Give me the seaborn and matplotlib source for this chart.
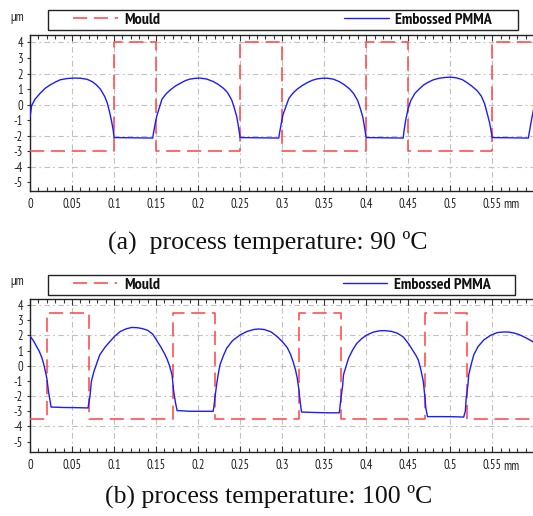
import matplotlib
matplotlib.use("Agg")
import matplotlib.pyplot as plt
import seaborn as sns
import pandas as pd
from matplotlib.patches import Rectangle
from matplotlib.ticker import MultipleLocator

# ---- data ----
# (a) 90 C : mould step profile
mould_a_x = [0, 0.1, 0.15, 0.25, 0.3, 0.4, 0.45, 0.55, 0.6]
mould_a_y = [-3, 4, -3, 4, -3, 4, -3, 4, 4]

# (a) embossed PMMA profile
pmma_a_x = [0.000, 0.002, 0.006, 0.012, 0.018, 0.024, 0.030, 0.036, 0.044, 0.052,
            0.060, 0.068, 0.074, 0.079, 0.084, 0.089, 0.092, 0.095, 0.097, 0.099, 0.100,
            0.146, 0.147, 0.149, 0.151, 0.153, 0.157, 0.162, 0.167, 0.173, 0.179, 0.185,
            0.190, 0.196, 0.202, 0.210, 0.218, 0.224, 0.230, 0.235, 0.240, 0.243, 0.246,
            0.248, 0.250,
            0.296, 0.297, 0.299, 0.301, 0.304, 0.308, 0.313, 0.318, 0.324, 0.330, 0.336,
            0.342, 0.348, 0.354, 0.361, 0.368, 0.374, 0.380, 0.385, 0.390, 0.393, 0.396,
            0.398, 0.400,
            0.444, 0.445, 0.447, 0.450, 0.453, 0.458, 0.463, 0.468, 0.473, 0.480, 0.487,
            0.494, 0.500, 0.507, 0.514, 0.520, 0.526, 0.532, 0.537, 0.541, 0.544, 0.547,
            0.550,
            0.593, 0.595, 0.597, 0.599]
pmma_a_y = [-0.80, -0.05, 0.35, 0.73, 1.05, 1.27, 1.45, 1.60, 1.68, 1.71,
            1.70, 1.63, 1.48, 1.27, 0.98, 0.51, 0.10, -0.55, -1.05, -1.65, -2.12,
            -2.15, -1.80, -1.20, -0.70, -0.35, 0.35, 0.70, 0.95, 1.20, 1.38, 1.55,
            1.64, 1.69, 1.71, 1.65, 1.49, 1.30, 1.06, 0.78, 0.30, -0.20, -0.78,
            -1.40, -2.12,
            -2.15, -1.80, -1.20, -0.65, -0.20, 0.40, 0.75, 1.00, 1.23, 1.42, 1.57,
            1.66, 1.70, 1.70, 1.64, 1.48, 1.28, 1.02, 0.72, 0.25, -0.25, -0.80,
            -1.45, -2.12,
            -2.15, -1.70, -1.00, -0.24, 0.25, 0.73, 1.00, 1.25, 1.42, 1.60, 1.70,
            1.75, 1.77, 1.73, 1.62, 1.42, 1.18, 0.90, 0.55, 0.05, -0.57, -1.20,
            -2.12,
            -2.15, -1.50, -0.90, -0.35]

# (b) 100 C : mould step profile
mould_b_x = [0, 0.02, 0.07, 0.17, 0.22, 0.32, 0.37, 0.47, 0.52, 0.6]
mould_b_y = [-3.5, 3.5, -3.5, 3.5, -3.5, 3.5, -3.5, 3.5, -3.5, -3.5]

# (b) embossed PMMA profile
pmma_b_x = [0.000, 0.004, 0.008, 0.011, 0.014, 0.016, 0.018, 0.020, 0.022, 0.024, 0.025,
            0.040, 0.055, 0.069, 0.0705, 0.0715, 0.073, 0.076, 0.080, 0.083, 0.089, 0.095,
            0.101, 0.107, 0.114, 0.121, 0.128, 0.134, 0.140, 0.146, 0.151, 0.156, 0.160,
            0.163, 0.166, 0.169, 0.171, 0.173, 0.175,
            0.190, 0.205, 0.218, 0.219, 0.220, 0.222, 0.224, 0.226, 0.230, 0.234, 0.241,
            0.250, 0.258, 0.266, 0.272, 0.279, 0.287, 0.294, 0.300, 0.306, 0.310, 0.313,
            0.316, 0.318, 0.320, 0.321, 0.323,
            0.340, 0.355, 0.368, 0.369, 0.370, 0.372, 0.373, 0.376, 0.379, 0.384, 0.389,
            0.395, 0.401, 0.409, 0.416, 0.422, 0.430, 0.437, 0.444, 0.450, 0.455, 0.459,
            0.462, 0.465, 0.468, 0.470, 0.471, 0.473,
            0.490, 0.505, 0.516, 0.518, 0.519, 0.521, 0.522, 0.525, 0.528, 0.533, 0.540,
            0.548, 0.556, 0.563, 0.569, 0.576, 0.582, 0.587, 0.593, 0.599]
pmma_b_y = [1.95, 1.65, 1.25, 0.95, 0.55, 0.17, -0.30, -0.82, -1.70, -2.35, -2.72,
            -2.75, -2.76, -2.78, -2.30, -1.92, -1.04, -0.39, 0.25, 0.71, 1.20, 1.59,
            1.95, 2.24, 2.42, 2.52, 2.50, 2.44, 2.33, 2.08, 1.65, 1.20, 0.80,
            0.45, 0.00, -0.60, -1.70, -2.40, -2.95,
            -3.00, -3.00, -3.00, -2.60, -2.14, -1.26, -0.55, 0.05, 0.65, 1.15, 1.65,
            2.03, 2.25, 2.38, 2.42, 2.38, 2.22, 1.92, 1.60, 1.20, 0.75, 0.27,
            -0.30, -0.82, -1.60, -2.14, -3.05,
            -3.08, -3.10, -3.10, -2.60, -2.14, -1.30, -0.60, -0.05, 0.49, 1.05, 1.48,
            1.80, 2.03, 2.22, 2.30, 2.31, 2.26, 2.14, 1.90, 1.48, 1.05, 0.70,
            0.38, -0.25, -1.04, -2.14, -2.80, -3.35,
            -3.35, -3.36, -3.38, -3.00, -2.14, -1.30, -0.60, 0.10, 0.71, 1.25, 1.70,
            2.00, 2.18, 2.22, 2.22, 2.15, 2.05, 1.92, 1.75, 1.55]

xticks = [0, 0.05, 0.1, 0.15, 0.2, 0.25, 0.3, 0.35, 0.4, 0.45, 0.5, 0.55]
xtick_labels = ["0", "0.05", "0.1", "0.15", "0.2", "0.25", "0.3", "0.35",
                "0.4", "0.45", "0.5", "0.55"]
yticks = [4, 3, 2, 1, 0, -1, -2, -3, -4, -5]
captions = ["(a)  process temperature: 90 ºC", "(b) process temperature: 100 ºC"]

# ---- style ----
sns.set_style("white")
NARROW = ["Liberation Sans Narrow", "Arial Narrow", "PT Sans Narrow", "Archivo Narrow",
          "Roboto Condensed", "Liberation Sans", "DejaVu Sans"]
plt.rcParams["font.family"] = NARROW
plt.rcParams["axes.unicode_minus"] = False

MOULD_COLOR = "#ff5050"
PMMA_COLOR = "#1c1cff"
GRID_COLOR = "#c0c0c0"

fig = plt.figure(figsize=(5.33, 5.16), dpi=100)
fig.patch.set_facecolor("white")

panels = [
    dict(rect=[0.0563, 0.6304, 0.9437, 0.3017], ylim=(-5.54, 4.48),
         box=(0.0895, 0.9419, 0.883, 0.0388), leg=(0.137, 0.9419, 0.786, 0.0388),
         cap=(0.503, 1 - 242 / 516), unit_y=1 - 18 / 516, mm_y=1 - 204.5 / 516,
         mx=mould_a_x, my=mould_a_y, px=pmma_a_x, py=pmma_a_y, cap_txt=captions[0]),
    dict(rect=[0.0563, 0.1246, 0.9437, 0.2959], ylim=(-5.66, 4.39),
         box=(0.0906, 0.4283, 0.8756, 0.0388), leg=(0.1364, 0.4283, 0.784, 0.0388),
         cap=(0.504, 1 - 496.5 / 516), unit_y=1 - 282 / 516, mm_y=1 - 466 / 516,
         mx=mould_b_x, my=mould_b_y, px=pmma_b_x, py=pmma_b_y, cap_txt=captions[1]),
]

for p in panels:
    ax = fig.add_axes(p["rect"])
    mould_df = pd.DataFrame({"x": p["mx"], "y": p["my"]})
    pmma_df = pd.DataFrame({"x": p["px"], "y": p["py"]})

    sns.lineplot(data=mould_df, x="x", y="y", ax=ax, sort=False, estimator=None,
                 drawstyle="steps-post", color=MOULD_COLOR, lw=1.2,
                 linestyle=(0, (8.5, 4)), label="Mould", zorder=3)
    sns.lineplot(data=pmma_df, x="x", y="y", ax=ax, sort=False, estimator=None,
                 color=PMMA_COLOR, lw=1.0, label="Embossed PMMA", zorder=4)

    ax.set_xlim(0, 0.5985)
    ax.set_ylim(*p["ylim"])
    ax.set_xlabel("")
    ax.set_ylabel("")

    ax.set_xticks(xticks)
    ax.set_xticklabels(xtick_labels)
    ax.xaxis.set_minor_locator(MultipleLocator(0.01))
    ax.set_yticks(yticks)
    ax.set_yticklabels([str(v) for v in yticks])
    ax.tick_params(axis="x", which="both", direction="in", top=True, bottom=True,
                   length=3, width=0.8, color="#333333", labelsize=9,
                   labelcolor="#222222", pad=5)
    ax.tick_params(axis="x", which="major", length=4)
    ax.tick_params(axis="y", which="major", direction="out", left=True, length=2.5,
                   width=0.8, color="#333333", labelsize=9, labelcolor="#222222", pad=2.5)

    # dash-dot light grid on the even values and every 0.05 mm
    ax.set_axisbelow(True)
    ax.xaxis.grid(True, which="major", color=GRID_COLOR, lw=0.8, linestyle=(0, (5, 3, 1.5, 3)))
    for gy in [4, 2, 0, -2, -4]:
        ax.axhline(gy, color=GRID_COLOR, lw=0.8, linestyle=(0, (5, 3, 1.5, 3)), zorder=0)

    for side in ["left", "bottom", "top"]:
        ax.spines[side].set_visible(True)
        ax.spines[side].set_color("#222222")
        ax.spines[side].set_linewidth(1.0)
    ax.spines["right"].set_visible(False)

    # legend: two entries spread over a long box
    leg = ax.legend(loc="center", bbox_to_anchor=p["leg"], bbox_transform=fig.transFigure,
                    ncol=2, mode="expand", frameon=False,
                    prop={"size": 11.5, "weight": "bold"},
                    handlelength=2.8, handletextpad=0.4, borderpad=0, borderaxespad=0)
    for t in leg.get_texts():
        t.set_color("#111111")
    fig.patches.append(Rectangle(p["box"][:2], p["box"][2], p["box"][3],
                                 transform=fig.transFigure, fill=False,
                                 edgecolor="#222222", lw=1.0))

    fig.text(17 / 533, p["unit_y"], "μm", fontsize=9, ha="center", va="center", color="#222222")
    fig.text(511 / 533, p["mm_y"], "mm", fontsize=9, ha="center", va="center", color="#222222")
    fig.text(p["cap"][0], p["cap"][1], p["cap_txt"], fontsize=18.5, ha="center", va="center",
             family=["Liberation Serif", "DejaVu Serif"], color="#111111")

fig.savefig("out.png", dpi=100, facecolor="white")
